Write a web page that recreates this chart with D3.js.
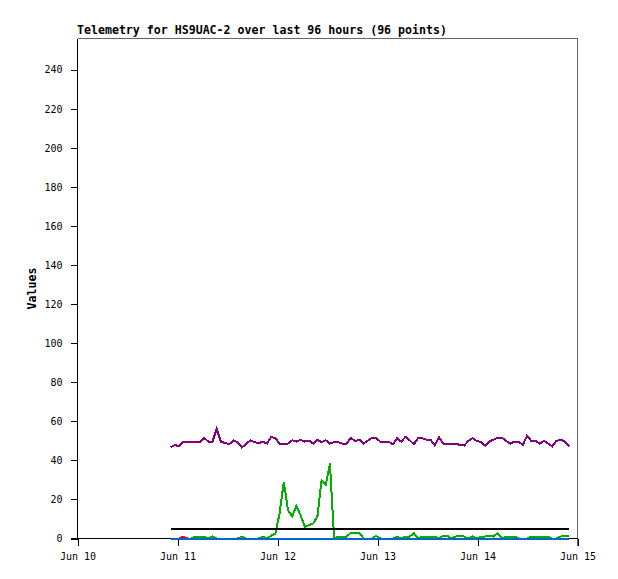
<!DOCTYPE html>
<html>
<head>
<meta charset="utf-8">
<script src="https://cdn.jsdelivr.net/npm/d3@7"></script>
<style>
  body { margin: 0; background: #fff; }
  text { font-family: "DejaVu Sans Mono", "Liberation Mono", monospace; font-size: 10px; fill: #000; }
  .title, .ylabel { font-weight: bold; font-size: 11.6px; }
</style>
</head>
<body>
<div id="chart"></div>
<script>
// telemetry, one point per hour
var startTime = new Date(2024, 5, 10, 22, 20)
var stepMinutes = 60.4

var purple = [46.6,47.9,47.2,49.3,49.3,49.3,49.3,49.3,51.5,49.6,49.6,56.1,49.6,48.9,48.3,50.2,
	49.3,46.6,48.4,50.2,49.3,48.8,49.6,48.6,52.0,51.3,48.6,48.6,48.6,50.3,49.6,50.5,
	49.6,50.2,48.6,50.5,49.3,50.3,48.6,49.3,49.3,48.6,48.6,51.5,49.8,50.6,48.6,50.0,
	51.5,51.3,49.6,49.6,49.6,48.3,51.3,49.6,52.0,50.3,48.3,51.3,51.3,50.6,50.6,47.6,
	51.8,48.6,48.6,48.6,48.6,47.9,47.6,50.0,51.3,50.0,49.3,47.6,49.6,50.6,51.7,51.7,
	50.0,48.6,49.6,49.6,47.9,52.7,50.0,50.0,48.6,50.0,48.6,47.2,50.0,50.6,49.6,47.2]

var green = [0,0,0,0,0,0,1,1,1,0,1,0,0,0,0,0,
	0,1,0,0,0,0,1,0,1.5,2.5,13,29,14.5,11.4,16.7,11.9,
	6,6.8,7.7,11.1,29.8,27.3,38.4,0,1,1,1,3,3,3,0,0,
	0,1.3,0,0,0,0,1,0,1,1,2.7,0,1,1,1,1,
	0,1.5,1.5,0,1,1.5,1,0,1,0,1,1,1.5,1,2.7,0,
	1,1,1,0,0,0,1,1,1,1,1,0,0,1,1.5,1]

var red = [0,0,0,1,0,0,0,0,0,0,0,0,0,0,0,0,
	0,0,0,0,0,0,0,0,0,0,0,0,0,0,0,0,
	0,0,0,0,0,0,0,0,0,0,0,0,0,0,0,0,
	0,0,0,0,0,0,0,0,0,0,0,0,0,0,0,0,
	0,0,0,0,0,0,0,0,0,0,0,0,0,0,0,0,
	0,0,0,0,0,0,0,0,0,0,0,0,0,0,0,0]

var black = [5,5,5,5,5,5,5,5,5,5,5,5,5,5,5,5,
	5,5,5,5,5,5,5,5,5,5,5,5,5,5,5,5,
	5,5,5,5,5,5,5,5,5,5,5,5,5,5,5,5,
	5,5,5,5,5,5,5,5,5,5,5,5,5,5,5,5,
	5,5,5,5,5,5,5,5,5,5,5,5,5,5,5,5,
	5,5,5,5,5,5,5,5,5,5,5,5,5,5,5,5]

var blue = [0,0,0,0,0,0,0,0,0,0,0,0,0,0,0,0,
	0,0,0,0,0,0,0,0,0,0,0,0,0,0,0,0,
	0,0,0,0,0,0,0,0,0,0,0,0,0,0,0,0,
	0,0,0,0,0,0,0,0,0,0,0,0,0,0,0,0,
	0,0,0,0,0,0,0,0,0,0,0,0,0,0,0,0,
	0,0,0,0,0,0,0,0,0,0,0,0,0,0,0,0]

var yTicks = [0,20,40,60,80,100,120,140,160,180,200,220,240]
var xTickDays = [10,11,12,13,14,15]
var titleText = "Telemetry for HS9UAC-2 over last 96 hours (96 points)"

var width = 618, height = 579
var pLeft = 77.5, pRight = 577.5, pTop = 38.5, pBottom = 538.5

var svg = d3.select("#chart").append("svg")
	.attr("width", width)
	.attr("height", height)

var times = purple.map(function(d, i){ return new Date(startTime.getTime() + i * stepMinutes * 60000) })

var x = d3.scaleTime()
	.domain([new Date(2024, 5, 10), new Date(2024, 5, 15)])
	.range([pLeft, pRight])

var y = d3.scaleLinear()
	.domain([0, 256])
	.range([pBottom, pTop])

// frame (top + right are grey)
svg.append("path")
	.attr("d", "M" + pLeft + "," + pTop + "H" + pRight + "V" + (pBottom + 7))
	.attr("fill", "none")
	.attr("stroke", "#666")
	.attr("shape-rendering", "crispEdges")

// y axis
var yAxis = svg.append("g").attr("transform", "translate(" + pLeft + ",0)")
	.call(d3.axisLeft(y).tickValues(yTicks).tickSize(7).tickPadding(8).tickSizeOuter(0))
yAxis.select(".domain").attr("stroke", "#000").attr("shape-rendering", "crispEdges")
	.attr("d", "M0," + pTop + "V" + pBottom)
yAxis.selectAll(".tick line").attr("shape-rendering", "crispEdges")
yAxis.selectAll("text").attr("font-family", null).attr("font-size", null)

// x axis
var xAxis = svg.append("g").attr("transform", "translate(0," + pBottom + ")")
	.call(d3.axisBottom(x)
		.tickValues(xTickDays.map(function(d){ return new Date(2024, 5, d) }))
		.tickFormat(d3.timeFormat("%b %d"))
		.tickSize(7).tickPadding(7).tickSizeOuter(0))
xAxis.select(".domain").attr("stroke", "#000").attr("shape-rendering", "crispEdges")
	.attr("d", "M" + (pLeft - 7) + ",0H" + pRight)
xAxis.selectAll(".tick line").attr("shape-rendering", "crispEdges")
xAxis.selectAll("text").attr("font-family", null).attr("font-size", null)

// title + y label
svg.append("text").attr("class", "title")
	.attr("x", 77).attr("y", 34)
	.text(titleText)

svg.append("text").attr("class", "ylabel")
	.attr("transform", "translate(36," + ((pTop + pBottom) / 2) + ") rotate(-90)")
	.attr("text-anchor", "middle")
	.text("Values")

var line = d3.line()
	.x(function(d, i){ return x(times[i]) })
	.y(function(d){ return y(d) })

var series = [
	{values: red, color: "#ff0000"},
	{values: green, color: "#00b000"},
	{values: black, color: "#000000"},
	{values: purple, color: "#800080"},
	{values: blue, color: "#0066cc"}
]

svg.append("g").selectAll("path")
	.data(series)
	.enter().append("path")
	.attr("fill", "none")
	.attr("stroke", function(d){ return d.color })
	.attr("stroke-width", 2)
	.attr("shape-rendering", "crispEdges")
	.attr("d", function(d){ return line(d.values) })
</script>
</body>
</html>
